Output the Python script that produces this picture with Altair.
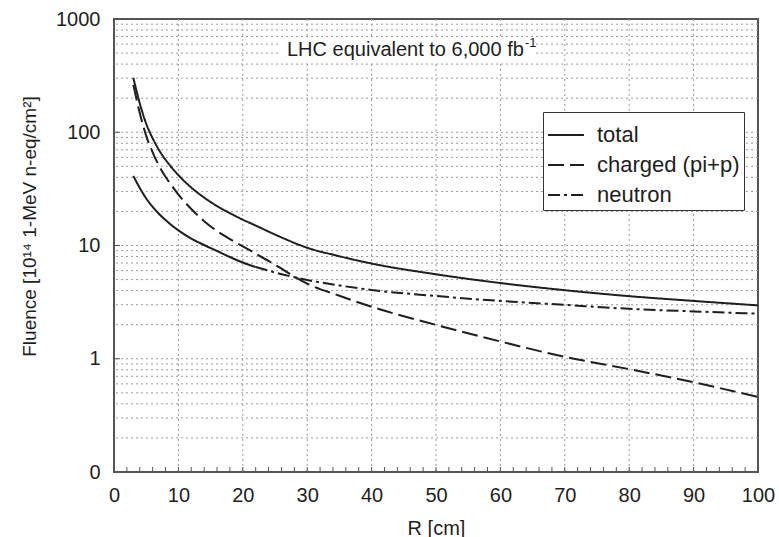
import altair as alt
import pandas as pd

# ---- data ----
R = [3, 4, 5, 6, 7, 8, 9, 10, 12, 14, 16, 18, 20, 22, 25, 30, 35, 40, 50, 60, 70, 80, 90, 100]
total = [303, 180, 119, 88.4, 69.5, 57.3, 48.5, 41.8, 32.5, 26.5, 22.3, 19.3, 16.9, 15.0,
         12.5, 9.56, 8.04, 6.93, 5.57, 4.66, 4.03, 3.57, 3.24, 2.96]
charged = [262, 148, 93, 66.5, 50.5, 40.5, 33.5, 28.2, 21, 16.4, 13.4, 11.4, 9.8, 8.5,
           6.75, 4.6, 3.6, 2.88, 1.99, 1.42, 1.04, 0.81, 0.62, 0.46]
neutron = [41.1, 32.2, 26.0, 21.9, 19.0, 16.8, 15.0, 13.6, 11.5, 10.1, 8.94, 7.91, 7.08, 6.46,
           5.78, 4.96, 4.44, 4.05, 3.58, 3.24, 2.99, 2.76, 2.62, 2.5]

series_names = ["total", "charged (pi+p)", "neutron"]
dash_patterns = [[1, 0], [16, 6], [12, 4, 3, 4]]
neutron_solid_until = 22

x_labels = [0, 10, 20, 30, 40, 50, 60, 70, 80, 90, 100]
x_grid = [10, 20, 30, 40, 50, 60, 70, 80, 90]
x_minor = list(range(2, 100, 2))
y_labels = [0.1, 1, 10, 100, 1000]
y_decade_ticks = [1, 10, 100]
y_grid = [m * d for d in [0.1, 1, 10, 100] for m in range(1, 10) if not (m == 1 and d == 0.1)]

annotation = "LHC equivalent to 6,000 fb"
annotation_sup = "-1"
y_title = "Fluence [10¹⁴ 1-MeV n-eq/cm²]"
x_title = "R [cm]"

# ---- layout ----
W, H = 644, 453
FONT = "Liberation Sans"
INK = "#1e1e1e"

rows = []
for name, vals in zip(series_names, [total, charged, neutron]):
    for r, v in zip(R, vals):
        rows.append({"R": r, "F": v, "series": name})
df = pd.DataFrame(rows)

xscale = alt.Scale(domain=[0, 100], nice=False, zero=False)
yscale = alt.Scale(type="log", domain=[0.1, 1000], nice=False)

x_axis = alt.Axis(values=x_labels, title=x_title, grid=False, ticks=False, tickSize=0,
                  domain=False, labelPadding=13, labelFontSize=20, titleFontSize=20,
                  titleFontWeight="normal", titleBaseline="top", titleY=46,
                  labelFlush=False, labelOverlap=False)
y_axis = alt.Axis(values=y_labels, title=y_title, grid=False, ticks=False, tickSize=0,
                  domain=False, labelPadding=14, labelFontSize=20, titleFontSize=19,
                  titleFontWeight="normal", titleAngle=270, titleAlign="center",
                  titleBaseline="middle", titleX=-85, titleY=207, labelFlush=False,
                  labelOverlap=False,
                  labelExpr="datum.value < 0.5 ? '0' : format(datum.value, 'd')")

X = alt.X("R:Q", scale=xscale, axis=x_axis)
Y = alt.Y("F:Q", scale=yscale, axis=y_axis)

grid_style = dict(color="#9a9a9a", strokeWidth=1, strokeDash=[2, 3])

hgrid = alt.Chart(pd.DataFrame({"F": y_grid})).mark_rule(**grid_style).encode(y=Y)
vgrid = alt.Chart(pd.DataFrame({"R": x_grid})).mark_rule(**grid_style).encode(x=X)

xticks = alt.Chart(pd.DataFrame({"R": x_minor})).mark_rule(color="#555", strokeWidth=1).encode(
    x=X, y=alt.value(H - 5), y2=alt.value(H))
yticks = alt.Chart(pd.DataFrame({"F": y_decade_ticks})).mark_rule(color="#555", strokeWidth=1).encode(
    y=Y, x=alt.value(0), x2=alt.value(6))

main = alt.Chart(df).transform_filter(
    f"!(datum.series == 'neutron' && datum.R < {neutron_solid_until})"
).mark_line(color=INK, strokeWidth=2, interpolate="monotone").encode(
    x=X, y=Y,
    strokeDash=alt.StrokeDash(
        "series:N",
        scale=alt.Scale(domain=series_names, range=dash_patterns),
        legend=alt.Legend(title=None, orient="none", legendX=429, legendY=93,
                          symbolType="stroke", symbolSize=1290, symbolStrokeWidth=2,
                          symbolStrokeColor=INK, labelFontSize=22, labelFont=FONT,
                          labelColor=INK, labelOffset=12, rowPadding=0,
                          padding=4, fillColor="white", strokeColor="#333"),
    ),
    order="R:Q",
)

neutron_solid = alt.Chart(df).transform_filter(
    f"datum.series == 'neutron' && datum.R <= {neutron_solid_until}"
).mark_line(color=INK, strokeWidth=2, interpolate="monotone").encode(x=X, y=Y, order="R:Q")

ann_bg = alt.Chart(pd.DataFrame({"t": [annotation]})).mark_rect(fill="white").encode(
    x=alt.value(166), x2=alt.value(420), y=alt.value(18), y2=alt.value(44))
ann = alt.Chart(pd.DataFrame({"t": [annotation]})).mark_text(
    align="left", baseline="middle", fontSize=20, font=FONT, color=INK).encode(
    text="t:N", x=alt.value(173), y=alt.value(31))
ann_sup = alt.Chart(pd.DataFrame({"t": [annotation_sup]})).mark_text(
    align="left", baseline="middle", fontSize=13, font=FONT, color=INK).encode(
    text="t:N", x=alt.value(411), y=alt.value(24))

chart = alt.layer(hgrid, vgrid, xticks, yticks, neutron_solid, main, ann_bg, ann, ann_sup).properties(
    width=W, height=H,
    autosize=alt.AutoSizeParams(type="none"),
    padding={"left": 114, "top": 19, "right": 21, "bottom": 65},
    background="white",
).configure_view(stroke="#555", strokeWidth=2).configure_axis(
    labelFont=FONT, titleFont=FONT, labelColor=INK, titleColor=INK,
)

chart.save("out.html", embed_options={"renderer": "svg", "actions": False})
